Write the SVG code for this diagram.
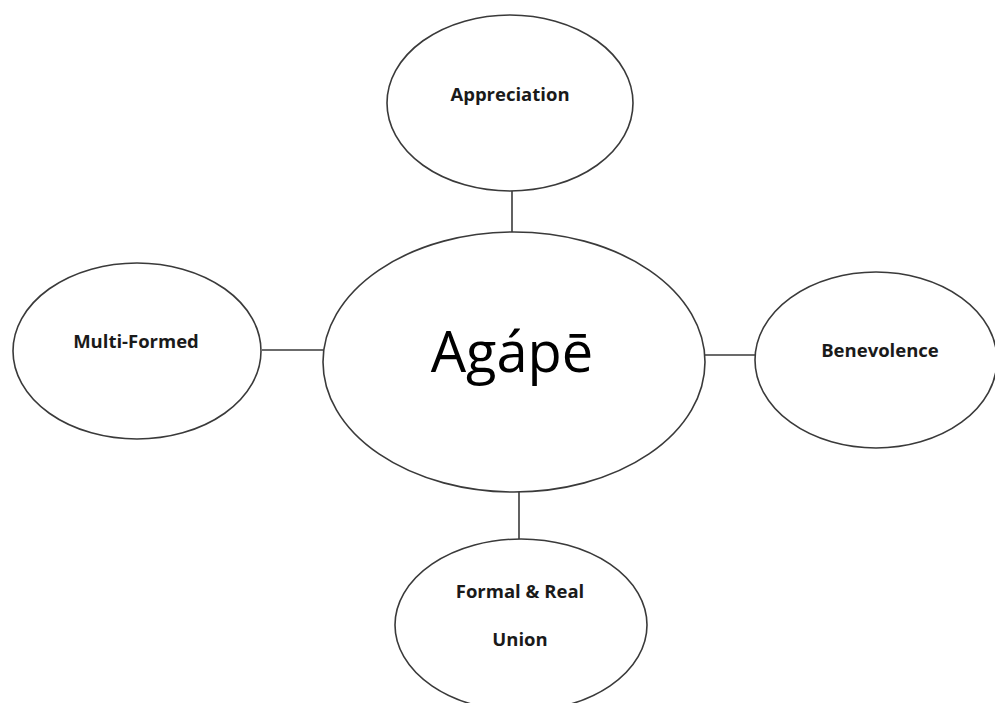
<svg xmlns="http://www.w3.org/2000/svg" width="995" height="703" viewBox="0 0 995 703">
<style>
.n{fill:#fff;stroke:#3a3a3a;stroke-width:1.6}
.c{stroke:#3a3a3a;stroke-width:1.6;fill:none}
.l{font-family:"Open Sans","Liberation Sans",sans-serif;font-weight:bold;font-size:18.5px;fill:#1a1a1a;text-anchor:middle}
.m{font-family:"Open Sans","Liberation Sans",sans-serif;font-size:56px;fill:#000;text-anchor:middle}
</style>
<rect width="995" height="703" fill="#fff"/>
<g id="connectors">
<line class="c" x1="512" y1="191" x2="512" y2="233"/>
<line class="c" x1="262" y1="350" x2="323" y2="350"/>
<line class="c" x1="705" y1="355" x2="755" y2="355"/>
<line class="c" x1="519" y1="492" x2="519" y2="539"/>
</g>
<g id="agape">
<ellipse class="n" cx="514" cy="362" rx="191" ry="130"/>
<text class="m" x="512" y="372">Agápē</text>
</g>
<g id="appreciation">
<ellipse class="n" cx="510" cy="103" rx="123" ry="88"/>
<text class="l" x="510" y="101">Appreciation</text>
</g>
<g id="multi-formed">
<ellipse class="n" cx="137" cy="351" rx="124" ry="88"/>
<text class="l" x="136" y="348">Multi-Formed</text>
</g>
<g id="benevolence">
<ellipse class="n" cx="876" cy="360" rx="121" ry="88"/>
<text class="l" x="880" y="357">Benevolence</text>
</g>
<g id="formal-real-union">
<ellipse class="n" cx="521" cy="625" rx="126" ry="86"/>
<text class="l" x="520" y="598">Formal &amp; Real</text>
<text class="l" x="520" y="646">Union</text>
</g>
</svg>
